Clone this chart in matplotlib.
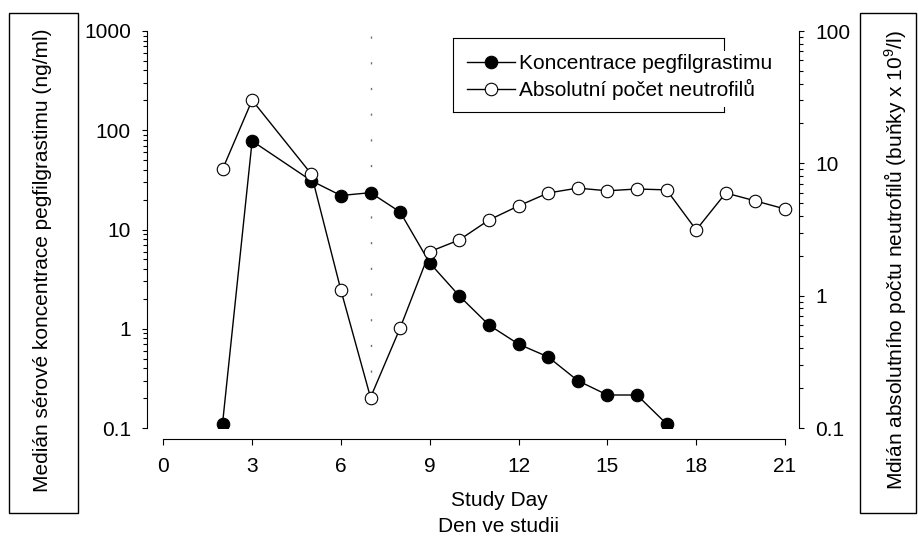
import matplotlib
matplotlib.use("Agg")
import matplotlib.pyplot as plt
from matplotlib.lines import Line2D
from matplotlib.patches import Rectangle
from matplotlib.ticker import FixedLocator, LogLocator, NullFormatter, FixedFormatter

plt.rcParams['font.family'] = ['Liberation Sans', 'DejaVu Sans']
plt.rcParams['mathtext.fontset'] = 'custom'
plt.rcParams['mathtext.rm'] = 'Liberation Sans'
plt.rcParams['mathtext.it'] = 'Liberation Sans:italic'

# ---- data ----
conc_days = [2, 3, 5, 6, 7, 8, 9, 10, 11, 12, 13, 14, 15, 16, 17]
conc_values = [0.11, 78, 31, 22, 23.5, 15, 4.6, 2.14, 1.09, 0.70, 0.52, 0.30, 0.215, 0.215, 0.11]
anc_days = [2, 3, 5, 6, 7, 8, 9, 10, 11, 12, 13, 14, 15, 16, 17, 18, 19, 20, 21]
anc_values = [9.0, 30, 8.3, 1.10, 0.17, 0.57, 2.15, 2.64, 3.73, 4.77, 5.97, 6.5, 6.2, 6.4, 6.3,
              3.14, 5.97, 5.2, 4.52]
x_ticks = [0, 3, 6, 9, 12, 15, 18, 21]
left_ticks = [0.1, 1, 10, 100, 1000]
left_tick_labels = ['0.1', '1', '10', '100', '1000']
right_ticks = [0.1, 1, 10, 100]
right_tick_labels = ['0.1', '1', '10', '100']
marker_day = 7
legend_labels = ['Koncentrace pegfilgrastimu', 'Absolutní počet neutrofilů']
left_label = 'Medián sérové koncentrace pegfilgrastimu (ng/ml)'
right_label = 'Mdián absolutního počtu neutrofilů (buňky x 10$^9$/l)'
x_label_1 = 'Study Day'
x_label_2 = 'Den ve studii'

W, H = 918, 538
fig = plt.figure(figsize=(W / 100, H / 100), dpi=100)

def fx(x):
    return x / W

def fy(y):
    return 1 - y / H

ax_left, ax_right, ax_top, ax_bot = 146.7, 799.3, 31, 428
ax = fig.add_axes([fx(ax_left), fy(ax_bot), fx(ax_right) - fx(ax_left), fy(ax_top) - fy(ax_bot)])
ax.patch.set_alpha(0)
ax2 = ax.twinx()

x0px, x21px = 163.3, 785.0
per_day = (x21px - x0px) / 21
ax.set_xlim((ax_left - x0px) / per_day, (ax_right - x0px) / per_day)

FS = 15
LW = 0.8
PT = 72 / 100  # points per pixel

# left axis
ax.set_yscale('log')
ax.set_ylim(0.1, 1000)
ax.yaxis.set_major_locator(FixedLocator(left_ticks))
ax.yaxis.set_major_formatter(FixedFormatter(left_tick_labels))
ax.yaxis.set_minor_locator(LogLocator(base=10, subs=range(2, 10)))
ax.yaxis.set_minor_formatter(NullFormatter())

# right axis
ax2.set_yscale('log')
ax2.set_ylim(0.1, 100)
ax2.yaxis.set_major_locator(FixedLocator(right_ticks))
ax2.yaxis.set_major_formatter(FixedFormatter(right_tick_labels))
ax2.yaxis.set_minor_locator(LogLocator(base=10, subs=range(2, 10)))
ax2.yaxis.set_minor_formatter(NullFormatter())

ax.set_xticks(x_ticks)
ax.set_xticklabels([str(t) for t in x_ticks])

for a in (ax, ax2):
    a.spines['top'].set_visible(False)
    for s in a.spines.values():
        s.set_linewidth(LW)
ax.spines['right'].set_visible(False)
ax2.spines['left'].set_visible(False)
ax2.spines['bottom'].set_visible(False)
ax.spines['bottom'].set_position(('outward', 11 * PT))
ax.spines['bottom'].set_bounds(0, 21)

ax.tick_params(axis='y', which='major', direction='out', length=5.3 * PT, width=LW, pad=7.5, labelsize=FS)
ax.tick_params(axis='y', which='minor', direction='out', length=4.3 * PT, width=LW)
ax.tick_params(axis='x', which='major', direction='out', length=6 * PT, width=LW, pad=9, labelsize=FS)
ax2.tick_params(axis='y', which='major', direction='out', length=5.3 * PT, width=LW, pad=7.5, labelsize=FS)
ax2.tick_params(axis='y', which='minor', direction='out', length=4.3 * PT, width=LW)
ax2.tick_params(axis='x', which='both', bottom=False, labelbottom=False)

# reference dotted line (pattern starts at the top)
ax.axvline(marker_day, ymin=1 - 5 / (ax_bot - ax_top), ymax=(ax_bot - 412) / (ax_bot - ax_top),
           color='0.45', lw=1.0, linestyle=(0, (1.6, 16.9)), zorder=1)

ms = 9
l1, = ax.plot(conc_days, conc_values, '-', color='black', lw=1.0, marker='o', ms=ms,
              mfc='black', mec='black', mew=0.8, zorder=3)
l2, = ax2.plot(anc_days, anc_values, '-', color='black', lw=1.0, marker='o', ms=ms,
               mfc='white', mec='black', mew=0.8, zorder=3)

leg = ax2.legend([l1, l2], legend_labels, loc='upper left',
                 bbox_to_anchor=(fx(467), fy(54)), bbox_transform=fig.transFigure,
                 frameon=False, borderpad=0, borderaxespad=0, handlelength=2.3,
                 handletextpad=0.2, labelspacing=0.3, fontsize=FS)

# legend box (partially hidden on the right)
box = dict(color='black', lw=LW, transform=fig.transFigure)
bx0, bx1, by0, by1 = 453, 724, 38, 112
for (xa, ya, xb, yb) in [(bx0, by0, bx1, by0), (bx0, by1, bx1, by1), (bx0, by0, bx0, by1),
                         (bx1, by0, bx1, 50), (bx1, 107, bx1, by1)]:
    fig.add_artist(Line2D([fx(xa), fx(xb)], [fy(ya), fy(yb)], **box))

# y-label boxes
fig.add_artist(Rectangle((fx(9), fy(513)), fx(78) - fx(9), fy(13) - fy(513),
                         transform=fig.transFigure, fill=False, ec='black', lw=1.0))
fig.add_artist(Rectangle((fx(860), fy(513)), fx(916) - fx(860), fy(13) - fy(513),
                         transform=fig.transFigure, fill=False, ec='black', lw=1.0))
fig.text(fx(43), fy(260), left_label, rotation=90, ha='center', va='center', fontsize=FS)
fig.text(fx(895), fy(260), right_label, rotation=90, ha='center', va='center', fontsize=FS)

fig.text(fx(499), fy(501), x_label_1, ha='center', va='center', fontsize=FS)
fig.text(fx(499), fy(526), x_label_2, ha='center', va='center', fontsize=FS)

fig.savefig('out.png', dpi=100)
